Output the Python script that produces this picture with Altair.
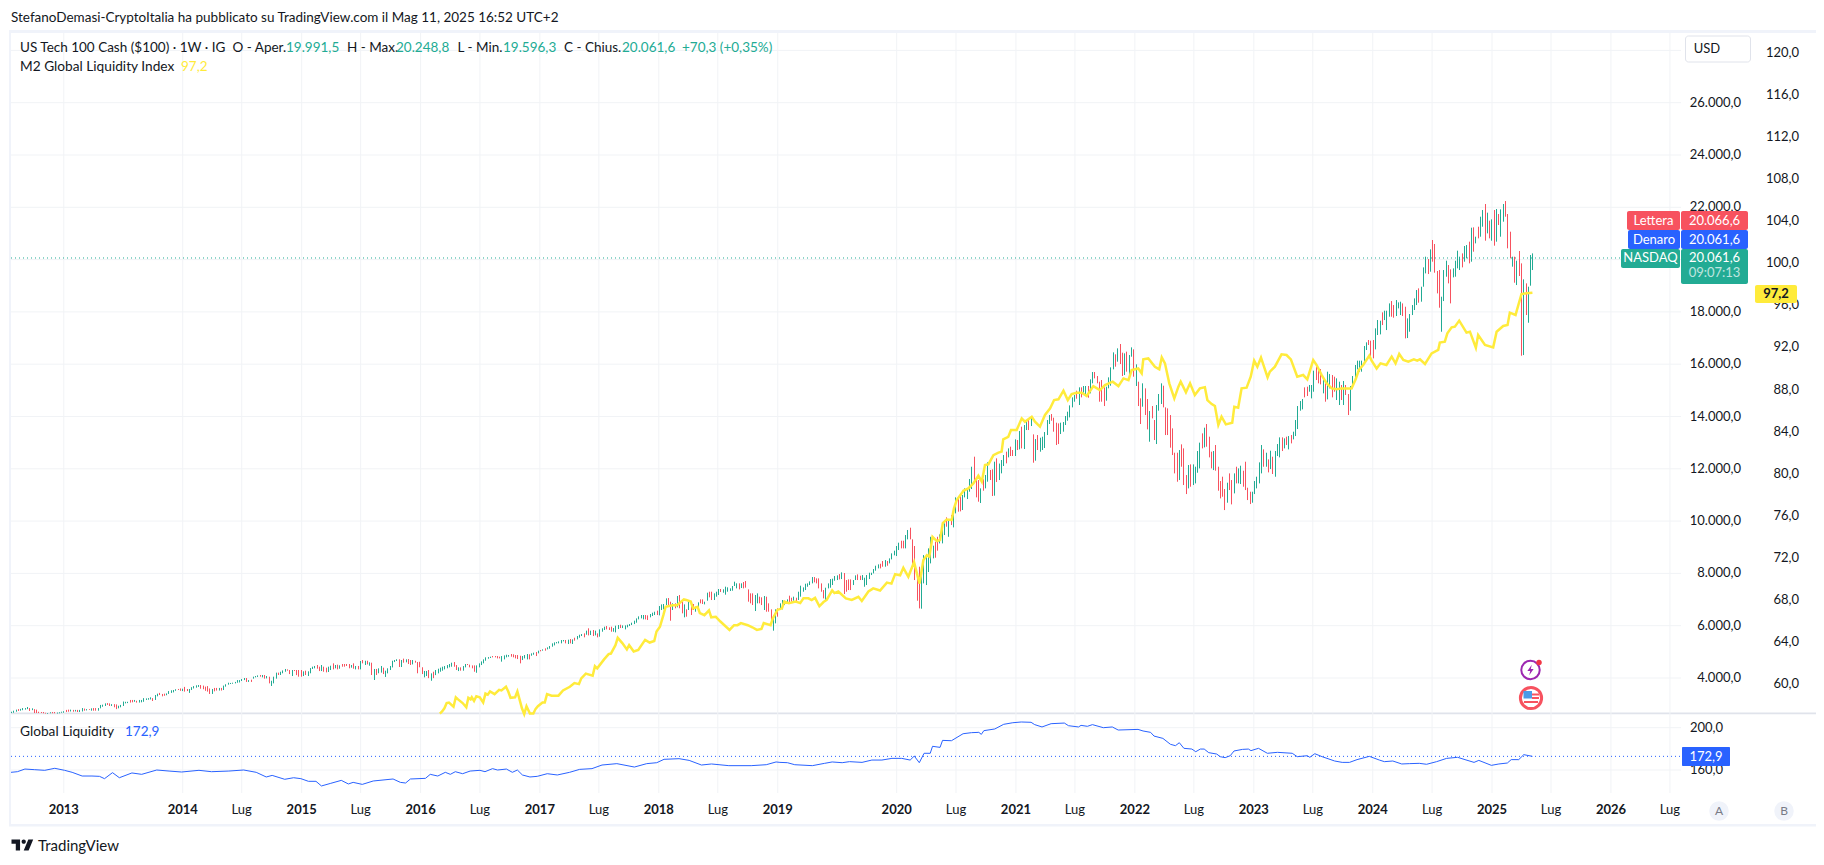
import datetime as dt
import altair as alt
import pandas as pd

FONT = "Lato"
INK = "#131722"
UP = "#22ab94"
DOWN = "#f7525f"
BLUE = "#2962ff"
YELLOW = "#ffeb3b"
GRID = "#f1f3f6"
FRAME = "#f0f3fa"
START = dt.date(2012, 7, 23)

# weekly bars: (high, low, direction), one entry per week from START
bars_2012 = [(2710,2660,'u'),(2750,2670,'u'),(2790,2710,'u'),(2810,2740,'d'),(2820,2750,'u'),(2850,2770,'u'),(2850,2790,'u'),(2890,2810,'u'),
(2850,2740,'d'),(2840,2770,'u'),(2810,2660,'d'),(2790,2660,'d'),(2710,2660,'d'),(2700,2660,'d'),(2700,2650,'d'),(2670,2640,'d'),
(2660,2630,'u'),(2690,2650,'u'),(2700,2650,'d'),(2700,2650,'d'),(2680,2640,'u'),(2690,2650,'u'),(2710,2670,'u'),(2730,2670,'u')]
bars_2013 = [(2780,2700,'d'),(2790,2710,'d'),(2790,2720,'u'),(2780,2710,'d'),(2780,2720,'u'),(2780,2700,'d'),(2780,2700,'u'),(2850,2720,'u'),
(2830,2750,'d'),(2810,2760,'u'),(2810,2780,'d'),(2840,2750,'u'),(2850,2750,'d'),(2850,2750,'d'),(2850,2750,'u'),(2970,2840,'u'),
(2980,2900,'u'),(3030,2930,'u'),(3040,2970,'d'),(3030,2930,'d'),(3000,2930,'u'),(3000,2880,'d'),(2990,2810,'d'),(2940,2840,'u'),
(2970,2880,'u'),(3100,2930,'u'),(3090,3030,'u'),(3090,3040,'u'),(3160,3060,'d'),(3160,3070,'d'),(3160,3090,'u'),(3130,3060,'d'),
(3160,3060,'u'),(3160,3070,'u'),(3230,3090,'u'),(3220,3160,'u'),(3230,3170,'u'),(3260,3180,'u'),(3230,3120,'d'),(3350,3160,'u'),
(3400,3300,'u'),(3430,3350,'d'),(3390,3300,'d'),(3400,3320,'d'),(3410,3340,'u'),(3500,3390,'u'),(3530,3430,'u'),(3540,3450,'u'),
(3570,3510,'u'),(3580,3540,'d'),(3600,3510,'d'),(3590,3500,'u')]
bars_2014 = [(3660,3480,'d'),(3580,3500,'d'),(3580,3430,'u'),(3650,3540,'u'),(3690,3600,'u'),(3720,3630,'u'),(3730,3660,'u'),(3730,3590,'d'),
(3710,3570,'d'),(3670,3510,'d'),(3690,3480,'d'),(3600,3390,'d'),(3580,3390,'u'),(3620,3490,'d'),(3620,3520,'d'),(3620,3520,'u'),
(3620,3520,'d'),(3710,3540,'u'),(3760,3670,'u'),(3820,3745,'u'),(3810,3770,'u'),(3820,3780,'u'),(3850,3795,'u'),(3920,3820,'u'),
(3920,3830,'u'),(3960,3885,'u'),(4000,3920,'u'),(4000,3850,'d'),(3920,3850,'u'),(3935,3850,'d'),(4050,3975,'u'),(4075,4025,'u'),
(4100,4040,'u'),(4115,4050,'d'),(4115,4025,'u'),(4115,3975,'d'),(4075,3985,'u'),(4050,3795,'d'),(3895,3695,'u'),(4050,3795,'u'),
(4205,3975,'u'),(4205,4115,'d'),(4240,4115,'u'),(4290,4180,'u'),(4345,4240,'u'),(4330,4280,'d'),(4305,4150,'d'),(4305,4075,'u'),
(4305,4265,'d'),(4305,4110,'d'),(4305,4050,'d')]
bars_2015 = [(4305,4050,'d'),(4255,4075,'u'),(4280,4115,'d'),(4255,4075,'u'),(4380,4180,'u'),(4433,4345,'u'),(4460,4370,'u'),(4497,4355,'d'),
(4433,4265,'d'),(4497,4265,'u'),(4433,4240,'d'),(4395,4215,'d'),(4433,4230,'u'),(4470,4305,'u'),(4560,4330,'d'),(4497,4370,'u'),
(4510,4330,'d'),(4485,4355,'u'),(4535,4433,'d'),(4535,4433,'d'),(4535,4460,'d'),(4535,4370,'d'),(4497,4395,'u'),(4560,4355,'d'),
(4460,4330,'u'),(4460,4330,'d'),(4650,4330,'u'),(4688,4560,'d'),(4660,4497,'u'),(4660,4520,'d'),(4600,4470,'u'),(4585,4115,'d'),
(4345,3923,'u'),(4345,4115,'d'),(4370,4180,'u'),(4460,4205,'u'),(4395,4150,'d'),(4280,4040,'u'),(4370,4178,'u'),(4460,4305,'u'),
(4660,4405,'u'),(4688,4610,'u'),(4715,4650,'u'),(4715,4420,'d'),(4688,4420,'u'),(4740,4585,'d'),(4715,4600,'u'),(4725,4535,'d'),
(4688,4497,'d'),(4688,4520,'u'),(4660,4585,'d'),(4610,4180,'d')]
bars_2016 = [(4620,4410,'d'),(4410,4150,'d'),(4270,4025,'u'),(4270,4075,'u'),(4305,3995,'d'),(4177,3895,'u'),(4240,3995,'d'),(4305,4110,'u'),
(4355,4177,'u'),(4395,4240,'u'),(4432,4280,'u'),(4457,4330,'u'),(4495,4370,'u'),(4535,4407,'u'),(4585,4432,'u'),(4610,4432,'d'),
(4495,4305,'d'),(4407,4265,'u'),(4407,4280,'d'),(4457,4280,'u'),(4535,4407,'u'),(4535,4495,'d'),(4510,4407,'d'),(4482,4370,'d'),
(4482,4240,'d'),(4482,4200,'u'),(4560,4407,'u'),(4635,4495,'u'),(4712,4560,'u'),(4790,4660,'u'),(4800,4737,'u'),(4815,4765,'u'),
(4840,4790,'d'),(4840,4790,'d'),(4840,4750,'d'),(4815,4750,'d'),(4840,4625,'u'),(4865,4712,'u'),(4890,4790,'u'),(4878,4815,'u'),
(4917,4815,'d'),(4905,4790,'d'),(4878,4750,'d'),(4878,4725,'d'),(4852,4560,'d'),(4840,4687,'u'),(4878,4750,'u'),(4917,4712,'u'),
(4905,4712,'d'),(4942,4852,'u'),(4968,4890,'u'),(4993,4840,'d')]
bars_2017 = [(5045,4942,'u'),(5070,5020,'d'),(5095,5045,'u'),(5133,5045,'d'),(5172,5095,'u'),(5223,5120,'u'),(5325,5197,'u'),(5362,5247,'u'),
(5375,5325,'u'),(5400,5325,'u'),(5452,5325,'u'),(5452,5400,'u'),(5452,5325,'d'),(5465,5300,'u'),(5490,5325,'d'),(5477,5300,'u'),
(5540,5427,'d'),(5605,5477,'u'),(5655,5540,'u'),(5681,5605,'u'),(5707,5555,'d'),(5810,5655,'u'),(5900,5630,'d'),(5810,5643,'u'),
(5835,5605,'d'),(5810,5630,'u'),(5707,5555,'d'),(5860,5580,'u'),(5900,5770,'u'),(5962,5835,'u'),(5987,5860,'d'),(5937,5835,'d'),
(5962,5770,'d'),(5910,5770,'u'),(6000,5745,'u'),(6025,5872,'u'),(6037,5910,'d'),(6012,5910,'u'),(6012,5860,'u'),(6037,5937,'u'),
(6062,5987,'u'),(6115,6025,'u'),(6192,6062,'u'),(6280,6115,'u'),(6357,6242,'u'),(6408,6280,'u'),(6408,6242,'u'),(6408,6242,'d'),
(6395,6217,'d'),(6447,6320,'u'),(6498,6370,'u'),(6535,6408,'u')]
bars_2018 = [(6575,6408,'d'),(6752,6395,'u'),(6815,6600,'u'),(6830,6625,'u'),(7045,6790,'u'),(7058,6752,'d'),(6918,6190,'d'),(6855,6600,'u'),
(6855,6665,'d'),(7135,6702,'u'),(7173,6665,'d'),(6918,6472,'d'),(6815,6320,'u'),(6625,6345,'d'),(6918,6600,'u'),(6830,6408,'d'),
(6830,6600,'d'),(6727,6535,'u'),(6893,6702,'u'),(7007,6855,'d'),(7007,6830,'d'),(6918,6815,'u'),(7262,6955,'u'),(7300,7085,'d'),
(7300,6982,'d'),(7237,6982,'u'),(7300,7110,'u'),(7403,7173,'u'),(7403,7288,'d'),(7390,7262,'u'),(7492,7186,'u'),(7467,7300,'u'),
(7428,7326,'u'),(7517,7339,'u'),(7683,7517,'u'),(7620,7428,'u'),(7620,7390,'d'),(7620,7441,'u'),(7670,7428,'d'),(7709,7454,'d'),
(7390,6918,'d'),(7237,6855,'d'),(7237,6790,'d'),(7173,6561,'u'),(7237,6855,'u'),(7110,6855,'d'),(7085,6790,'d'),(7135,6600,'u'),
(7110,6535,'d'),(6855,6535,'d'),(6625,6025,'d'),(6408,5810,'u'),(6625,6090,'u'),(6663,6345,'d')]
bars_2019 = [(6855,6600,'u'),(6982,6625,'u'),(6957,6790,'u'),(7007,6855,'u'),(7148,6855,'d'),(7070,6918,'d'),(7110,6957,'u'),(7070,6918,'d'),
(7300,6982,'u'),(7530,7110,'u'),(7465,7300,'u'),(7605,7363,'u'),(7618,7490,'u'),(7695,7555,'u'),(7860,7618,'u'),(7860,7657,'d'),
(7810,7618,'d'),(7810,7427,'d'),(7618,7300,'d'),(7363,7045,'d'),(7453,6943,'u'),(7618,7427,'u'),(7784,7453,'u'),(7797,7555,'u'),
(7899,7720,'u'),(7925,7746,'u'),(7975,7770,'d'),(8040,7784,'u'),(8014,7210,'d'),(7746,7300,'d'),(7770,7363,'d'),(7770,7363,'d'),
(7746,7555,'u'),(7925,7746,'u'),(7963,7746,'d'),(7912,7746,'d'),(7937,7746,'u'),(7835,7490,'u'),(7937,7555,'u'),(8026,7784,'u'),
(8026,7937,'u'),(8166,8000,'u'),(8294,8103,'u'),(8345,8192,'u'),(8370,8192,'d'),(8473,8256,'d'),(8510,8256,'u'),(8473,8294,'d'),
(8575,8383,'u'),(8766,8536,'u'),(8868,8690,'u'),(9047,8664,'u'),(9174,8893,'u')]
bars_2020 = [(9250,8957,'d'),(9250,8957,'d'),(9467,8957,'u'),(9660,9302,'u'),(9748,9302,'d'),(9302,8192,'d'),(9047,7746,'d'),(7975,6955,'d'),
(8256,6662,'d'),(8192,6650,'u'),(8700,7618,'u'),(8638,7555,'u'),(8957,8052,'u'),(9400,8383,'u'),(9060,8575,'u'),(9212,8600,'d'),
(9400,8868,'d'),(9490,9148,'u'),(9786,9148,'u'),(9913,9467,'u'),(10143,9786,'d'),(10040,9400,'u'),(10232,9850,'d'),(10450,9760,'u'),
(10908,10296,'u'),(10908,10360,'d'),(10959,10372,'d'),(10997,10423,'u'),(11252,10908,'u'),(11252,10844,'u'),(11610,11125,'u'),(12080,11227,'u'),
(12463,11507,'d'),(11570,10908,'d'),(11570,10742,'d'),(11252,10691,'u'),(11597,11163,'d'),(11762,11252,'u'),(12247,11507,'u'),(11954,11570,'d'),
(11979,10959,'d'),(12272,10972,'u'),(12400,11494,'d'),(12200,11570,'u'),(12336,11826,'u'),(12527,12106,'u'),(12655,12208,'d'),(12782,12438,'u'),
(12846,12489,'d'),(12718,12489,'d'),(13126,12489,'u'),(13100,12718,'d')]
bars_2021 = [(13444,12743,'u'),(13610,12781,'d'),(13674,12756,'u'),(13801,13482,'u'),(13890,13482,'d'),(13993,13635,'u'),(13317,12233,'d'),(13138,12310,'u'),
(13291,12718,'d'),(13189,12654,'u'),(13227,12718,'u'),(13406,12794,'u'),(13865,13291,'u'),(14056,13712,'u'),(14095,13839,'d'),(13954,13419,'d'),
(13763,12909,'d'),(13737,12947,'d'),(13763,13330,'u'),(13788,13419,'u'),(14018,13674,'u'),(14184,13839,'u'),(14426,13967,'u'),(14732,14349,'u'),
(14821,14566,'u'),(14987,14681,'d'),(15115,14439,'u'),(15115,14732,'d'),(15166,14910,'u'),(15166,14821,'u'),(15166,14719,'d'),(15420,14885,'u'),
(15701,15268,'u'),(15701,15459,'d'),(15548,15268,'d'),(15331,14566,'d'),(15395,14566,'d'),(15115,14400,'d'),(15140,14604,'u'),(15497,15077,'u'),
(15880,15178,'u'),(16453,15803,'u'),(16377,15905,'d'),(16606,16096,'u'),(16772,16007,'d'),(16440,15548,'d'),(16415,15586,'u'),(16479,15714,'d'),
(16351,15522,'u'),(16644,16287,'u'),(16568,15522,'d')]
bars_2022 = [(15994,15166,'u'),(15331,14400,'d'),(14694,13712,'d'),(15268,14375,'u'),(15076,14056,'d'),(14668,13508,'d'),(14209,13036,'u'),(14400,13928,'d'),
(13865,13100,'d'),(14439,12947,'u'),(14860,14222,'u'),(15268,14477,'u'),(15178,14349,'d'),(14349,13291,'d'),(14311,13291,'d'),(14056,12807,'d'),
(13546,12526,'d'),(12615,11825,'d'),(12615,11506,'d'),(12717,11570,'u'),(12935,12080,'d'),(12781,11379,'d'),(11761,11034,'d'),(12144,11251,'u'),
(12169,11315,'d'),(12169,11379,'u'),(12080,11442,'u'),(12679,11850,'u'),(13000,12016,'u'),(13355,12781,'d'),(13572,12819,'u'),(13712,12845,'d'),
(13228,12437,'d'),(12654,12016,'d'),(12679,11952,'u'),(12909,11927,'d'),(12080,11162,'d'),(11532,10869,'d'),(11698,10932,'d'),(11226,10422,'d'),
(11468,10703,'u'),(11825,11187,'d'),(11570,10639,'d'),(11825,11060,'u'),(12080,11442,'d'),(12016,11442,'u'),(12118,11417,'u'),(11927,11315,'d'),
(12271,11187,'d'),(11277,10805,'d'),(11124,10652,'d')]
bars_2023 = [(11124,10703,'u'),(11532,11034,'u'),(11698,11251,'u'),(12246,11442,'u'),(12909,11825,'u'),(12743,12080,'d'),(12615,12080,'u'),(12360,11863,'d'),
(12692,11990,'u'),(12462,11800,'d'),(12679,11697,'u'),(12947,12488,'u'),(13202,12437,'u'),(13202,12679,'d'),(13164,12781,'u'),(13228,12909,'d'),
(13253,12743,'u'),(13291,12972,'d'),(13419,13125,'u'),(13865,13253,'u'),(14400,13520,'u'),(14591,14222,'u'),(14668,14273,'u'),(15114,14732,'d'),
(15140,14783,'d'),(15204,14948,'u'),(15204,14693,'u'),(15752,14948,'u'),(15905,15395,'d'),(15777,15268,'d'),(15816,15229,'d'),(15497,14885,'u'),
(15268,14566,'d'),(15714,14655,'u'),(15624,15076,'u'),(15586,14732,'d'),(15522,14949,'d'),(15459,14630,'u'),(15331,14439,'u'),(15204,14630,'d'),
(15357,14439,'u'),(15204,14821,'d'),(14859,14056,'d'),(15165,14222,'u'),(15548,15076,'u'),(15969,15420,'u'),(16135,15803,'u'),(16135,15714,'u'),
(16135,15714,'u'),(16695,16032,'u'),(16836,16542,'u'),(16925,16734,'d')]
bars_2024 = [(16900,16160,'d'),(16925,16224,'d'),(17371,16568,'u'),(17690,17116,'u'),(17663,17140,'u'),(17982,17497,'d'),(18046,17688,'u'),(18046,17306,'u'),
(18326,17816,'u'),(18415,17816,'d'),(18262,17778,'d'),(18453,17842,'u'),(18364,18135,'u'),(18390,17880,'u'),(18326,17842,'d'),(18198,16987,'d'),
(17752,17000,'u'),(17918,17242,'u'),(18262,17880,'u'),(18517,18071,'u'),(18836,18262,'u'),(18900,18352,'d'),(18963,18390,'u'),(19703,18963,'u'),
(20111,19473,'u'),(20022,19448,'d'),(20391,19537,'u'),(20749,19920,'d'),(20596,19499,'d'),(19563,18708,'d'),(19601,18160,'d'),(18581,17242,'u'),
(19601,18415,'u'),(19958,19346,'u'),(19792,19091,'d'),(19627,18326,'d'),(19665,19320,'u'),(19958,19346,'u'),(20341,19665,'u'),(20111,19601,'u'),
(20238,19703,'d'),(20519,19920,'u'),(20557,20047,'u'),(20685,19856,'d'),(21220,19920,'u'),(21233,20302,'d'),(20876,20621,'u'),(21258,20812,'d'),
(21641,20876,'u'),(21896,21258,'u'),(22126,20723,'d')]
bars_2025 = [(21794,21003,'u'),(21488,20812,'d'),(21539,20723,'u'),(21896,20532,'d'),(21934,20685,'u'),(21743,21322,'d'),(21921,20876,'u'),(22126,21450,'u'),
(22240,21641,'d'),(21743,20430,'d'),(21067,20047,'d'),(20111,19729,'u'),(20111,19116,'d'),(19958,19027,'u'),(20328,19372,'d'),(19856,16324,'d'),
(19244,16350,'u'),(19091,17880,'d'),(18963,17586,'u'),(20175,19002,'u'),(20238,19601,'u')]

# M2 Global Liquidity Index: (week number, index value)
m2_a = [(188,57.2),(189,57.4),(190,57.7),(191,58.2),(192,58.25),(194,57.85),(195,58.75),(196,58.55),(198,58.2),(199.6,57.8),(200.5,58.7),(201.5,58.55),(202,58.75),(203,58.4),(204,58.85),(205.5,58.75),(207,58.25),(208,59.1),(209,59.0),(210,59.3),(212,59.05),(214,59.45),(215,59.4),(217,59.75),(218,59.3),(219,58.7),(221,58.75),(222,59.3),(223,58.5),(224,57.7),(225,57.15),(226,57.9),(227.5,57.2),(229,57.2),(230,57.65),(231,57.9),(233,58.25),(234,58.25),(235,59.05),(237,58.9),(240,58.9),(242,59.4),(245,59.75),(247,60.1),(249,60.0),(250,60.55),(252,61.0),(255,60.8),(256,61.7),(257,61.5),(260,62.35),(262,62.85),(263,62.9),(265,63.7),(266,64.4),(268,63.9),(270,63.3),(271,63.7),(273,63.1),(275,63.25),(278,64.2),(280,63.95),(282,64.1),(283,65.0),(284.5,65.45),(286,66.55),(287,67.35),(290,67.5),(292,67.5),(295,68.05),(296,68.0),(298,67.85),(299,67.2),(301,67.35),(302,66.75),(304,66.55),(306,67.0),(307,66.35),(309,66.4),(311,65.95),(315,65.15),(317,65.6),(318.5,65.6),(320,65.8),(323,65.6),(325,65.4),(327,65.15),(329,65.25),(330,65.8),(333,65.6),(334,66.25),(336,67.05),(338,67.2),(339,67.85),(341,67.7),(344,67.85),(346,67.7)]
m2_b = [(347.4,68.15),(349.6,68.15),(351,67.99),(352.5,68.2),(354.4,67.4),(356.2,67.8),(357.6,68.0),(360,68.9),(361,68.65),(362.7,68.8),(366,68.15),(368.6,68.0),(371.5,68.3),(373,67.9),(375.9,68.8),(378,69.1),(381,68.9),(384,69.65),(386,69.55),(387.6,70.45),(389.8,70.35),(391.2,71.05),(393.4,70.2),(395.9,71.6),(398.3,69.55),(400,71.8),(401.5,72.25),(402.6,72.1),(404,74.0),(405.9,73.6),(407.3,73.7),(408.5,75.3),(410.2,75.65),(412.4,75.6),(413.4,76.7),(414.6,77.5)]
m2_c = [(416.8,78.13),(417.5,78.38),(419.7,78.6),(421.9,79.08),(424.1,79.81),(425.6,79.24),(427,80.82),(428.5,80.89),(430.7,81.77),(432.9,82),(434.3,82.1),(435,83.26),(437.2,83.5),(438.4,84.15),(440.9,84.15),(443.1,85.26),(444.5,84.94),(447.5,85.42),(448.9,84.94),(451.1,84.47),(453.3,85.58),(455.5,86.2),(457.3,87.0),(459.2,87.07),(461.4,87.89),(463.3,87.0),(465,87.57),(467.2,87.7),(469.4,87.7),(471.6,87.38),(474.5,88.33),(477.4,87.95),(479.6,88.43),(483,88.75),(485.5,88.33),(487.7,89.06),(489.9,88.9),(491.3,89.85),(494.2,90.0),(495.7,89.54),(496.4,90.87),(498.6,90.96),(501.5,90.17),(503.4,89.92),(504.5,91.06),(505.9,90.49),(507.8,88.59),(510,87.16),(511.8,88.27),(512.8,88.75)]
m2_d = [(515.1,87.73),(516.9,88.59),(519,87.48),(521.2,88.11),(523.4,88.21),(524.5,87.0),(526.4,86.62),(527.8,86.43),(529.3,84.63),(530.7,85.42),(532.6,84.69),(535.4,84.85),(536.3,86.37),(538,86.28),(539.5,88.11),(541.7,88.18),(543.5,89.22),(545,90.74),(546.4,90.17),(548,91.03),(550.9,89.16),(551.9,89.7),(554.1,90.17),(557,91.35),(559.2,91.28),(561.1,90.87),(563.9,89.22),(566.5,89.38),(568.3,88.97),(570.9,90.8),(572.4,90.33),(574.6,89.38),(576.8,88.59),(579,88.11),(581.2,88.02),(583.3,88.11),(587.7,88.11)]
m2_e = [(589.5,88.97),(590.9,89.86),(592.8,90.33),(595.5,91.22),(596.5,90.74),(598.7,90.0),(600.4,90.49),(603,90.33),(605.3,91.13),(607,90.49),(608.6,91.38),(610.4,90.81),(612.6,90.65),(615,90.87),(616.5,90.74),(617.7,90.87),(619.9,90.43),(622.8,91.44),(625.7,91.76),(626.4,92.46),(628.6,92.55),(629.7,93.34),(631.6,93.91),(633,93.98),(634.9,94.55),(638.1,93.41),(639.6,93.5),(642.2,91.98),(643.2,93.19),(646.2,92.23),(649.8,92.01),(651.3,93.5),(654.2,94.04),(656.1,94.14),(657.1,95.31),(659.6,95.09),(662.2,97.08),(664.4,97.15),(667,97.2)]

# Global Liquidity: (week number, value)
liq_a = [(0,157.8),(2.8,158.4),(6.1,160.9),(10.4,160.3),(14.8,159.7),(19.2,161.6),(23.5,159.7),(26.8,157.8),(31.2,154.3),(35.5,154.3),(38.8,154),(41,151.8),(44.5,157.5),(47.5,152.7),(53,157.2),(57.3,155.9),(63.9,160),(69.3,159),(74.8,158.1),(82.4,159.7),(87.9,158.4),(95.5,159),(102,160),(107.5,157.8),(111.9,153.4),(114.5,154.9),(120,151.2),(123.9,152.7),(127.1,151.8),(130.4,149.3),(133.7,149.3),(136.1,144.9),(140.2,147.4),(144.8,150.2),(147.9,146.8),(150,148.3),(154,146.4),(158.8,149.6),(167.5,151.5),(170.7,148.3),(173,147.7),(175.1,151.5),(181.7,152.1),(183.8,155.9),(187.1,154.3),(190.4,157.8),(192.6,155.9),(194.8,158.4),(198,156.5),(201.3,159),(205.6,159.7),(207.8,158.4),(211.1,161.3),(213.3,160),(217.2,160.9),(219.8,157.8),(222,160),(224.2,155.3),(227.5,153.4),(230.7,154),(235.1,156.5),(239.5,155.3),(244.9,157.8),(249.3,160.6),(254.7,161.3),(259.1,164.7),(265.6,166),(273.3,162.8),(278.7,166),(283.1,166.9),(286.3,170.1),(292.9,170.7),(297.3,169.1),(302.7,164.7),(307.1,165.7),(314.7,164.1),(324.5,164.1),(331.1,165),(335.4,167.6)]
liq_b = [(337.1,167.2),(340.4,166.9),(343.6,165),(351.3,164.1),(356.7,166.3),(360,167.6),(364.4,166.9),(367.6,167.9),(373.1,167.2),(377.4,169.4),(381.8,169.4),(386.2,171),(390.5,171),(394.2,169.4),(396,173.2),(398.2,166.9),(400.3,175.8),(403,175.8),(404,182.4),(407.3,181.4),(408.4,188),(412.3,187.7),(417.4,194.3),(421.1,195.3),(424.3,195.6),(425.4,193.7),(426.5,197.2),(431.3,198.8),(435.2,203.2),(439.2,204.7),(442.9,205.4),(447.2,205.1),(448.8,202.9),(452,200.7),(456,203.8),(461.8,204.4),(463.6,201.9),(468,200.7),(469.1,202.2),(471.9,201.3),(474.1,202.9),(478.9,200),(482.8,200.7),(485.4,197.8),(494.1,198.4),(496.3,196.9),(499.6,195.6),(501.1,192.1),(505,189.9),(508.3,184.3),(510.5,183),(512.2,185.8),(514.2,180.5),(517.7,179.8),(519.4,177.3),(521.4,179.8),(523.1,179.8),(525.1,176.4),(528.6,175.1),(530.1,172.6),(532.3,171.7),(534.5,173.5),(536.2,178),(539.9,179.5),(542.5,179.8),(543.6,178.3),(546.9,180.5),(550.8,175.8),(555.2,176.7),(561.7,175.8),(563.9,172.6),(568.3,173.5),(569.4,172),(571.6,175.4),(574.8,172.6),(580.3,168.5),(583.6,167.2),(586.8,167.2),(590.1,169.8),(595.5,172.9),(599.9,169.4),(602.1,167.9),(605.8,168.5),(609.7,165.7),(613,166),(617.4,166.3),(620.6,165.4),(625,167.9),(629.4,171),(634.2,172),(637,170.1),(641.4,167.2),(643.5,169.1),(649,164.4),(652.3,165.7),(656,166.6),(657.7,169.8),(661,169.8),(663.2,174.5),(667,172.9)]

price_ticks = [4000,6000,8000,10000,12000,14000,16000,18000,20000,22000,24000,26000]
price_grid = price_ticks + [28000]
m2_ticks = [60,64,68,72,76,80,84,88,92,96,100,104,108,112,116,120]
liq_ticks = [160,200]
time_ticks = [("2013",2013,1),("2014",2014,1),("Lug",2014,7),("2015",2015,1),("Lug",2015,7),("2016",2016,1),("Lug",2016,7),("2017",2017,1),("Lug",2017,7),("2018",2018,1),("Lug",2018,7),("2019",2019,1),("2020",2020,1),("Lug",2020,7),("2021",2021,1),("Lug",2021,7),("2022",2022,1),("Lug",2022,7),("2023",2023,1),("Lug",2023,7),("2024",2024,1),("Lug",2024,7),("2025",2025,1),("Lug",2025,7),("2026",2026,1),("Lug",2026,7)]

# ---- tables built from the lists above
all_bars = bars_2012+bars_2013+bars_2014+bars_2015+bars_2016+bars_2017+bars_2018+bars_2019+bars_2020+bars_2021+bars_2022+bars_2023+bars_2024+bars_2025
bars = pd.DataFrame(all_bars, columns=["hi","lo","dir"])
bars["w"] = range(len(bars))
m2 = pd.DataFrame(m2_a+m2_b+m2_c+m2_d+m2_e, columns=["w","v"])
liq = pd.DataFrame(liq_a+liq_b, columns=["w","v"])
def week(y, m):
    return (dt.date(y, m, 1) - START).days / 7
times = pd.DataFrame({"t":[t[0] for t in time_ticks], "w":[week(t[1],t[2]) for t in time_ticks]})
def it(v):
    return f"{v:,.1f}".replace(",", "X").replace(".", ",").replace("X", ".")

# ---- scales: image pixel minus the 8px page margin
PX_WEEK = 2.281
WMAX = 760
X = alt.Scale(domain=[0, WMAX], range=[3, 3 + WMAX*PX_WEEK], nice=False, zero=False)
XR = alt.Scale(domain=[0, WMAX], range=[3, 3 + WMAX*PX_WEEK], nice=False, zero=False, round=True)
P = alt.Scale(domain=[4000, 28000], range=[678-8, 50.4-8], nice=False, zero=False)
M = alt.Scale(domain=[60, 120], range=[684.1-8, 52.9-8], nice=False, zero=False)
L = alt.Scale(domain=[160, 200], range=[770-8, 727.7-8], nice=False, zero=False)
ONE = alt.Data(values=[{"a":1}])

def T(x, y, s, color=INK, size=13, weight="normal", align="left", opacity=1, font=FONT):
    return alt.Chart(alt.Data(values=[{"t":s}])).mark_text(align=align, baseline="middle", font=font, fontSize=size,
        fontWeight=weight, color=color, opacity=opacity).encode(x=alt.value(x-8), y=alt.value(y-8), text="t:N")
def R(x0, x1, y0, y1, color, radius=0, stroke=None):
    kw = dict(color=color, cornerRadius=radius)
    if stroke:
        kw.update(stroke=stroke, strokeWidth=1)
    return alt.Chart(ONE).mark_rect(**kw).encode(x=alt.value(x0-8), x2=alt.value(x1-8), y=alt.value(y0-8), y2=alt.value(y1-8))
def SYM(x, y, size, color=None, stroke=None, sw=0, shape="circle"):
    kw = dict(shape=shape, size=size, filled=color is not None, opacity=1)
    if color: kw["fill"] = color
    if stroke:
        kw.update(stroke=stroke, strokeWidth=sw)
    else:
        kw["strokeWidth"] = 0
    return alt.Chart(ONE).mark_point(**kw).encode(x=alt.value(x-8), y=alt.value(y-8))

layers = []
# frame and separators
layers += [R(9,11,30,826,FRAME), R(9,1824,30,33,FRAME), R(9,1824,824,826.5,FRAME), R(1822,1824,30,826,FRAME), R(11,1822,712.5,714.2,"#e0e3eb")]
# grid
layers.append(alt.Chart(times).mark_rule(color=GRID, strokeWidth=1).encode(x=alt.X("w:Q", scale=X, axis=None), y=alt.value(33-8), y2=alt.value(793-8)))
layers.append(alt.Chart(pd.DataFrame({"p":price_grid})).mark_rule(color=GRID, strokeWidth=1).encode(y=alt.Y("p:Q", scale=P, axis=None), x=alt.value(11-8), x2=alt.value(1681-8)))
layers.append(alt.Chart(pd.DataFrame({"p":liq_ticks})).mark_rule(color=GRID, strokeWidth=1).encode(y=alt.Y("p:Q", scale=L, axis=None), x=alt.value(11-8), x2=alt.value(1681-8)))
# last-price lines
layers.append(alt.Chart(pd.DataFrame({"p":[20061.6]})).mark_rule(color=UP, strokeWidth=1, strokeDash=[1,3]).encode(y=alt.Y("p:Q", scale=P, axis=None), x=alt.value(11-8), x2=alt.value(1681-8)))
layers.append(alt.Chart(pd.DataFrame({"p":[172.9]})).mark_rule(color=BLUE, strokeWidth=1, strokeDash=[1,3]).encode(y=alt.Y("p:Q", scale=L, axis=None), x=alt.value(11-8), x2=alt.value(1681-8)))
# data
layers.append(alt.Chart(bars).mark_rule(strokeWidth=1, xOffset=0.5).encode(
    x=alt.X("w:Q", scale=XR, axis=None), y=alt.Y("hi:Q", scale=P, axis=None), y2="lo:Q",
    color=alt.Color("dir:N", scale=alt.Scale(domain=["u","d"], range=[UP,DOWN]), legend=None)))
layers.append(alt.Chart(m2).mark_line(color=YELLOW, strokeWidth=2.5).encode(x=alt.X("w:Q", scale=X, axis=None), y=alt.Y("v:Q", scale=M, axis=None)))
layers.append(alt.Chart(liq).mark_line(color=BLUE, strokeWidth=1).encode(x=alt.X("w:Q", scale=X, axis=None), y=alt.Y("v:Q", scale=L, axis=None)))
# axis labels
def ylabels(ticks, scale, xright):
    d = pd.DataFrame({"v":ticks, "t":[it(v) for v in ticks]})
    return alt.Chart(d).mark_text(align="right", baseline="middle", font=FONT, fontSize=13, color=INK).encode(
        x=alt.value(xright-8), y=alt.Y("v:Q", scale=scale, axis=None), text="t:N")
layers += [ylabels(price_ticks, P, 1741), ylabels(m2_ticks, M, 1799), ylabels(liq_ticks, L, 1723)]
for kind, w8 in (("year","bold"),("mid","normal")):
    d = times[times.t != "Lug"] if kind == "year" else times[times.t == "Lug"]
    layers.append(alt.Chart(d).mark_text(align="center", baseline="middle", font=FONT, fontSize=13, fontWeight=w8, color=INK).encode(
        x=alt.X("w:Q", scale=X, axis=None), y=alt.value(810-8), text="t:N"))
# header and legends
layers.append(T(11,18,"StefanoDemasi-CryptoItalia ha pubblicato su TradingView.com il Mag 11, 2025 16:52 UTC+2",size=13.5))
layers.append(T(20,47.5,"US Tech 100 Cash ($100) · 1W · IG",size=13.5))
for x, s, c in [(232.5,"O - Aper.",INK),(286,"19.991,5",UP),(347,"H - Max.",INK),(396,"20.248,8",UP),(457.5,"L - Min.",INK),(503,"19.596,3",UP),(564,"C - Chius.",INK),(622,"20.061,6",UP),(682,"+70,3 (+0,35%)",UP)]:
    layers.append(T(x,47.5,s,c,size=13.5))
layers += [T(20,66.5,"M2 Global Liquidity Index",size=13.7), T(181,66.5,"97,2",YELLOW,size=13.5), T(20,731.5,"Global Liquidity",size=13.7), T(125,731.5,"172,9",BLUE,size=13.5)]
# USD button
layers += [R(1685.5,1750.5,36,62,"#ffffff",3,"#e0e3eb"), T(1707,49,"USD",align="center")]
# price tags
layers += [R(1627,1680,211,230,DOWN,2), R(1681,1748,211,230,DOWN,2), T(1653.5,220.5,"Lettera","#ffffff",align="center"), T(1714.5,220.5,"20.066,6","#ffffff",align="center"),
           R(1628,1680,230,249,BLUE,2), R(1681,1748,230,249,BLUE,2), T(1654,239.5,"Denaro","#ffffff",align="center"), T(1714.5,239.5,"20.061,6","#ffffff",align="center"),
           R(1621,1680,249,268,UP,2), R(1681,1748,249,284,UP,2), T(1650.5,257.5,"NASDAQ","#ffffff",align="center"), T(1714.5,257.5,"20.061,6","#ffffff",align="center"), T(1714.5,273,"09:07:13","#ffffff",align="center",opacity=0.7),
           R(1755,1797,285,303,YELLOW,2), T(1776,294,"97,2",INK,weight="bold",align="center"),
           R(1682,1730,747,766,BLUE,1), T(1706,756.5,"172,9","#ffffff",align="center")]
# pane buttons
layers += [SYM(1719,811,380,color=FRAME), T(1719,811,"A","#787b86",size=12,align="center"), SYM(1784,811,380,color=FRAME), T(1784,811,"B","#787b86",size=12,align="center")]
# event icons
BOLT = "M0.25,-1 L-0.6,0.2 L-0.05,0.2 L-0.25,1 L0.6,-0.2 L0.05,-0.2 Z"
layers += [SYM(1530.5,670,340,color="#ffffff",stroke="#9c27b0",sw=2), SYM(1530.5,670,110,color="#9c27b0",shape=BOLT), SYM(1539,662.5,30,color="#f23645"),
           SYM(1531,698,450,color="#ffffff",stroke="#f7525f",sw=3),
           R(1523.5,1532,691,698.5,"#4a9be8"), R(1532,1539,693.5,695.5,"#f7525f"), R(1532,1539,697,699,"#f7525f"), R(1524,1538,701,703,"#f7525f")]
# logo
LOGO = "M-1,-0.5 L-0.222,-0.5 L-0.222,0.5 L-0.611,0.5 L-0.611,-0.11 L-1,-0.11 Z M0.111,0.5 L0.528,-0.5 L0.972,-0.5 L0.556,0.5 Z M-0.083,-0.306 a0.194,0.194 0 1 0 0.388,0 a0.194,0.194 0 1 0 -0.388,0 Z"
layers += [SYM(22.5,845,484,color=INK,shape=LOGO), T(38,846,"TradingView",INK,size=15)]

chart = alt.layer(*layers).resolve_scale(x="independent", y="independent", color="independent").properties(
    width=1808, height=849, padding=0, autosize=alt.AutoSizeParams(type="none"),
    background="#ffffff").configure_view(stroke=None)
chart.save("out.html", embed_options={"renderer": "svg", "actions": False})
